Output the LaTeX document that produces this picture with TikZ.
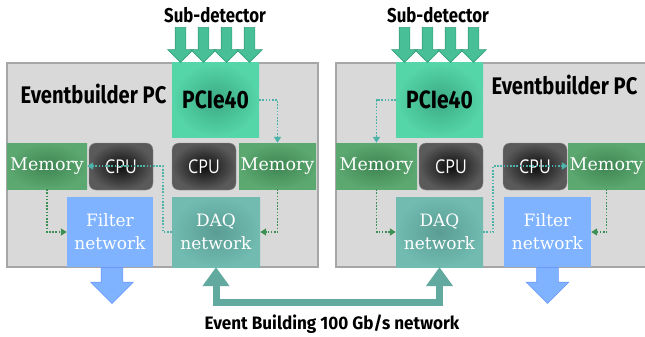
\documentclass[tikz,border=0pt]{standalone}
\usepackage{fontspec}
\setmainfont{DejaVu Serif}
\newfontfamily\headfont[FakeStretch=0.84]{Fira Sans}
\newfontfamily\busfont[FakeStretch=0.95]{Fira Sans}
\newfontfamily\cpufont[FakeStretch=0.85]{Open Sans}
\usetikzlibrary{arrows.meta,shapes.arrows}

\definecolor{pcgray}{HTML}{D9D9D9}
\definecolor{pcedge}{HTML}{A6A6A6}
\definecolor{pcieout}{HTML}{55D6A9}
\definecolor{pciein}{HTML}{3CAA84}
\definecolor{memout}{HTML}{5CA871}
\definecolor{memin}{HTML}{3E8551}
\definecolor{cpuout}{HTML}{5A5A5A}
\definecolor{cpuin}{HTML}{0C0C0C}
\definecolor{cpuedge}{HTML}{8A8A8A}
\definecolor{daqout}{HTML}{71BBB1}
\definecolor{daqin}{HTML}{5A9D94}
\definecolor{filterblue}{HTML}{7FB3FF}
\definecolor{inflow}{HTML}{48BF97}
\definecolor{inedge}{HTML}{36A17D}
\definecolor{busteal}{HTML}{62A99F}
\definecolor{linkteal}{HTML}{4DB3A8}
\definecolor{linkgreen}{HTML}{3E8F55}

\begin{document}
\begin{tikzpicture}[x=1pt,y=-1pt,
  pc/.style={draw=pcedge,fill=pcgray,line width=1.2pt},
  title/.style={font=\headfont\bfseries\fontsize{24}{24}\selectfont},
  card/.style={shading=radial,inner color=pciein,outer color=pcieout,
    minimum width=87pt,minimum height=74pt,inner sep=0pt,
    font=\headfont\bfseries\fontsize{25}{25}\selectfont},
  mem/.style={shading=radial,inner color=memin,outer color=memout,text=white,
    minimum width=80pt,minimum height=46pt,inner sep=0pt,
    font=\fontsize{17.5}{20}\selectfont},
  cpu/.style={draw=cpuedge,rounded corners=7pt,shading=radial,inner color=cpuin,
    outer color=cpuout,text=white,minimum width=64pt,minimum height=47pt,
    inner sep=0pt,font=\cpufont\fontsize{19}{19}\selectfont},
  daq/.style={shading=radial,inner color=daqin,outer color=daqout,text=white,
    align=center,minimum width=88pt,minimum height=70pt,inner sep=0pt,
    font=\fontsize{17}{23}\selectfont},
  filter/.style={fill=filterblue,text=white,align=center,
    minimum width=86pt,minimum height=70pt,inner sep=0pt,
    font=\fontsize{17}{23}\selectfont},
  inarrow/.style={single arrow,shape border rotate=270,draw=inedge,fill=inflow,
    line width=0.6pt,minimum height=35pt,inner sep=5pt,
    single arrow head extend=7.5pt,single arrow head indent=0pt},
  outarrow/.style={single arrow,shape border rotate=270,draw=filterblue!85!blue,
    fill=filterblue,line width=0.6pt,minimum height=36pt,inner sep=10.5pt,
    single arrow head extend=10.5pt,single arrow head indent=0pt},
  link/.style={draw=linkteal,line width=1.6pt,dash pattern=on 1.6pt off 1.6pt,
    -{Triangle[length=6pt,width=7pt]}},
  memlink/.style={link,draw=linkgreen},
  bus/.style={draw=busteal,line width=7pt,
    {Triangle[length=19pt,width=26pt]}-{Triangle[length=19pt,width=26pt]}}]
\useasboundingbox (0,0) rectangle (645,337);

% left eventbuilder
\draw[pc] (7,63) rectangle (318,267);
\node[title,anchor=west] (titleL) at (17,94) {Eventbuilder PC};
\node[card] (pcieL) at (215.5,100) {PCIe40};
\node[mem] (memL1) at (47,166) {Memory};
\node[cpu] (cpuL1) at (121,166.5) {CPU};
\node[cpu] (cpuL2) at (204,166.5) {CPU};
\node[mem,minimum width=77pt] (memL2) at (277.5,166) {Memory};
\node[filter] (filterL) at (110,232) {Filter\\network};
\node[daq] (daqL) at (216,232) {DAQ\\network};

% right eventbuilder
\draw[pc] (336,63) rectangle (660,267);
\node[title,anchor=west] (titleR) at (488,85) {Eventbuilder PC};
\node[card] (pcieR) at (439.5,100) {PCIe40};
\node[mem,minimum width=81pt] (memR1) at (376.5,166) {Memory};
\node[cpu] (cpuR1) at (451,166.5) {CPU};
\node[cpu] (cpuR2) at (535,166.5) {CPU};
\node[mem,minimum width=77pt] (memR2) at (606.5,166) {Memory};
\node[daq,minimum width=87pt] (daqR) at (439.5,232) {DAQ\\network};
\node[filter,minimum width=87pt] (filterR) at (547.5,232) {Filter\\network};

% detector inputs
\node[title,font=\headfont\bfseries\fontsize{20}{20}\selectfont] (subL) at (215,15) {Sub-detector};
\node[title,font=\headfont\bfseries\fontsize{20}{20}\selectfont] (subR) at (438,15) {Sub-detector};
\foreach \dx [count=\i] in {-35,-12,11,34} {
  \node[inarrow,anchor=tip] (inL\i) at ([xshift=\dx pt]pcieL.north) {};
  \node[inarrow,anchor=tip] (inR\i) at ([xshift=\dx pt]pcieR.north) {};
}

% filter outputs
\node[outarrow,anchor=tail] (outL) at ([xshift=2pt]filterL.south) {};
\node[outarrow,anchor=tail] (outR) at (filterR.south) {};

% data paths inside the PCs
\draw[link] (pcieL.east) -| (memL2.north);
\draw[link] (daqL.west) -- ++(-9,0) |- (memL1.east);
\draw[memlink] (memL1.south) |- (filterL.west);
\draw[memlink] (memL2.south) |- (daqL.east);
\draw[link] (pcieR.west) -| (memR1.north);
\draw[link] (daqR.east) -- ++(10,0) |- (memR2.west);
\draw[memlink] (memR1.south) |- (daqR.west);
\draw[memlink] (memR2.south) |- (filterR.east);

% event building network
\draw[bus] (daqL.south) -- ++(0,35) -| (daqR.south);
\node[anchor=base,font=\busfont\bfseries\fontsize{18}{18}\selectfont] (busL) at (332,329)
  {Event Building 100 Gb/s network};
\end{tikzpicture}
\end{document}
